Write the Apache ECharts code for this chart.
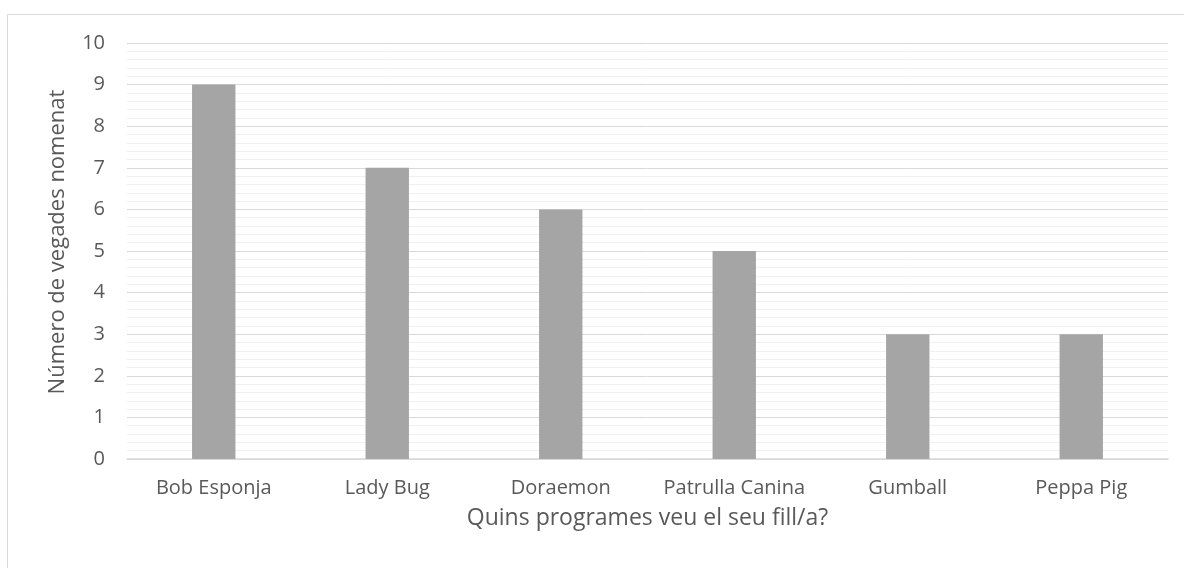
<!DOCTYPE html>
<html>
<head>
<meta charset="utf-8">
<script src="https://cdn.jsdelivr.net/npm/echarts@6/dist/echarts.min.js"></script>
<style>
  html, body { margin: 0; padding: 0; background: #fff; }
  #chart { width: 1184px; height: 568px; }
</style>
</head>
<body>
<div id="chart"></div>
<script>
// dades del gràfic
var programes = ['Bob Esponja', 'Lady Bug', 'Doraemon', 'Patrulla Canina', 'Gumball', 'Peppa Pig'];
var vegades = [9, 7, 6, 5, 3, 3];
var titolX = 'Quins programes veu el seu fill/a?';
var titolY = 'Número de vegades nomenat';

var myChart = echarts.init(document.getElementById('chart'));
var font = '"Open Sans", Calibri, sans-serif';

var option = {
  animation: false,
  textStyle: { fontFamily: font },
  graphic: [{
    type: 'rect',
    shape: { x: 7.5, y: 14.5, width: 1200, height: 600 },
    style: { fill: 'none', stroke: '#d9d9d9', lineWidth: 1 },
    silent: true
  }],
  grid: { left: 127, right: 16, top: 43, bottom: 109 },
  xAxis: {
    type: 'category',
    data: programes,
    name: titolX,
    nameLocation: 'middle',
    nameGap: 48,
    nameTextStyle: { fontSize: 23, color: '#595959', fontFamily: font },
    axisLine: { lineStyle: { color: '#d9d9d9', width: 1.5 } },
    axisTick: { show: false },
    axisLabel: { interval: 0, fontSize: 20, color: '#595959', margin: 19, fontFamily: font }
  },
  yAxis: {
    type: 'value',
    min: 0,
    max: 10,
    interval: 1,
    name: titolY,
    nameLocation: 'middle',
    nameGap: 58,
    nameTextStyle: { fontSize: 22, color: '#595959', fontFamily: font, padding: [0, 0, 0, 18] },
    axisLine: { show: false },
    axisTick: { show: false },
    axisLabel: { fontSize: 20, color: '#595959', margin: 22, fontFamily: font },
    splitLine: { lineStyle: { color: '#d9d9d9', width: 1 } },
    minorTick: { show: false, splitNumber: 5 },
    minorSplitLine: { show: true, lineStyle: { color: '#f0f0f0', width: 1 } }
  },
  series: [{
    type: 'bar',
    data: vegades,
    barWidth: '25%',
    itemStyle: { color: '#a5a5a5' }
  }]
};

myChart.setOption(option);
</script>
</body>
</html>
